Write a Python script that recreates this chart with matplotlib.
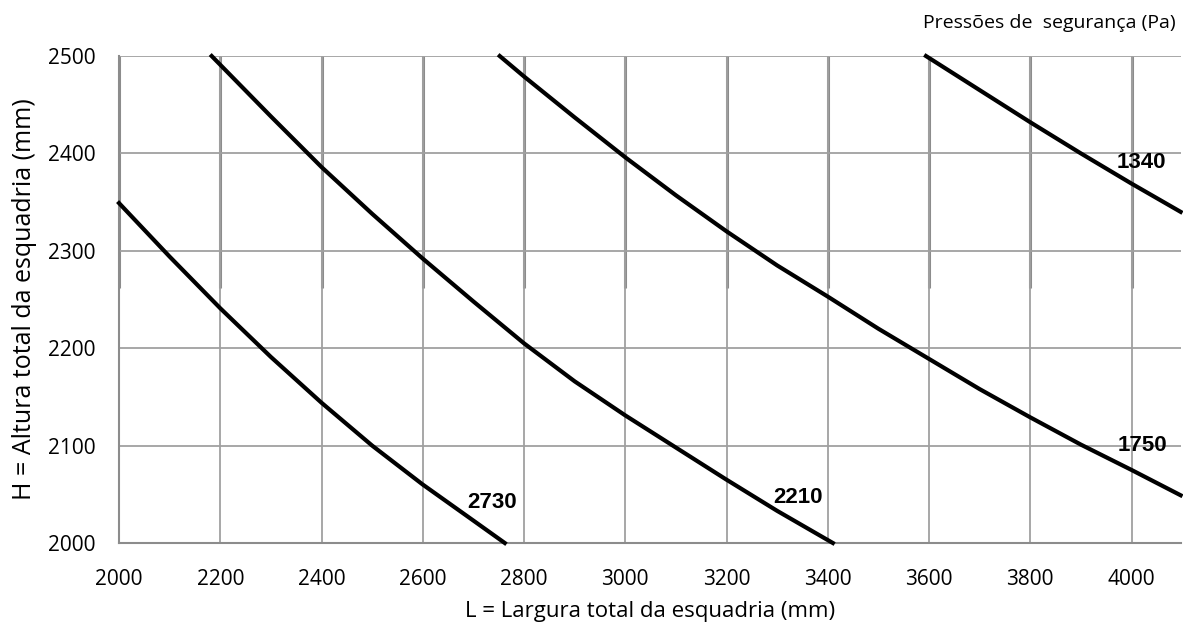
import matplotlib.pyplot as plt
import numpy as np
from matplotlib.ticker import MultipleLocator

# curves of safety pressure (Pa): L (mm) vs H (mm)
L_2730 = [2000, 2100, 2200, 2300, 2400, 2500, 2600, 2700, 2762]
H_2730 = [2349, 2294, 2241, 2191, 2144, 2100, 2060, 2023, 2000]

L_2210 = [2183, 2200, 2300, 2400, 2500, 2600, 2700, 2800, 2900, 3000, 3100, 3200, 3300, 3400, 3410]
H_2210 = [2500, 2491, 2438, 2386, 2338, 2292, 2248, 2205, 2166, 2131, 2098, 2065, 2033, 2003, 2000]

L_1750 = [2752, 2800, 2900, 3000, 3100, 3200, 3300, 3400, 3500, 3600, 3700, 3800, 3900, 4000, 4097]
H_1750 = [2500, 2479, 2437, 2396, 2357, 2320, 2285, 2253, 2220, 2189, 2158, 2129, 2101, 2075, 2049]

L_1340 = [3594, 3700, 3800, 3900, 4000, 4097]
H_1340 = [2500, 2465, 2432, 2400, 2369, 2340]

labels = ['2730', '2210', '1750', '1340']
label_pos = [(2736, 2042), (3341, 2047), (4022, 2100), (4019, 2391)]

fig = plt.figure(figsize=(11.83, 6.26), dpi=100)
ax = fig.add_axes([0.1006, 0.1326, 0.8974, 0.7779])

ax.set_xlim(2000, 4097)
ax.set_ylim(2000, 2500)
ax.xaxis.set_major_locator(MultipleLocator(200))
ax.yaxis.set_major_locator(MultipleLocator(100))

grid_c = '#a0a0a0'
ax.grid(True, color=grid_c, linewidth=1.3)
# darker upper part of the vertical lines
ax.vlines(np.arange(2000, 4001, 200), 2262, 2500, color='#8c8c8c', linewidth=2.2, zorder=1)

for s in ['top', 'right']:
    ax.spines[s].set_visible(False)
for s in ['left', 'bottom']:
    ax.spines[s].set_color('#8c8c8c')
    ax.spines[s].set_linewidth(1.5)
ax.tick_params(length=0, labelsize=15)
ax.tick_params(axis='x', pad=19)
ax.tick_params(axis='y', pad=17)
for t in ax.get_xticklabels() + ax.get_yticklabels():
    t.set_family('Open Sans')

for L, H in [(L_2730, H_2730), (L_2210, H_2210), (L_1750, H_1750), (L_1340, H_1340)]:
    ax.plot(L, H, color='black', linewidth=3, clip_on=False, zorder=3,
            solid_joinstyle='round')

for txt, (x, y) in zip(labels, label_pos):
    ax.text(x, y, txt, fontsize=16, fontweight='bold', family='Liberation Sans',
            ha='center', va='center', zorder=4)

ax.set_xlabel('L = Largura total da esquadria (mm)', fontsize=16, family='Open Sans', labelpad=8)
ax.set_ylabel('H = Altura total da esquadria (mm)', fontsize=18, family='Open Sans', labelpad=8)
fig.text(0.994, 0.963, 'Pressões de  segurança (Pa)', fontsize=14, family='Open Sans',
         ha='right', va='center')

fig.savefig('out.png', dpi=100)
